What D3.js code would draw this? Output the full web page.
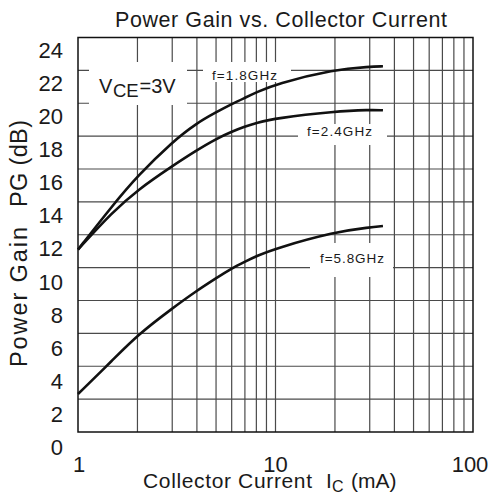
<!DOCTYPE html>
<html>
<head>
<meta charset="utf-8">
<script src="https://cdn.jsdelivr.net/npm/d3@7"></script>
<style>
  body { margin: 0; background: #fff; }
  svg { font-family: "Liberation Sans", Arial, sans-serif; }
  text { fill: #1a1a1a; }
</style>
</head>
<body>
<script>
// collector current (mA) and power gain (dB) per frequency
var current = [1, 1.5, 2, 3, 4, 5, 6, 7, 8, 10, 20, 30, 35];
var gain18 = [11.1, 13.8, 15.57, 17.65, 18.8, 19.45, 19.95, 20.33, 20.66, 21.17, 22.07, 22.22, 22.25];
var gain24 = [11.1, 13.4, 14.72, 16.18, 17.15, 17.83, 18.27, 18.58, 18.8, 19.09, 19.51, 19.6, 19.57];
var gain58 = [2.31, 4.38, 5.9, 7.52, 8.6, 9.35, 9.96, 10.36, 10.7, 11.17, 12.18, 12.45, 12.53];
var yTicks = [0, 2, 4, 6, 8, 10, 12, 14, 16, 18, 20, 22, 24];
var xTicks = [1, 10, 100];
var xGrid = [2, 3, 4, 5, 6, 7, 8, 9, 10, 20, 30, 40, 50, 60, 70, 80, 90];

var W = 490, H = 501;
var pLeft = 78, pRight = 473, pTop = 37.5, pBottom = 432;

var svg = d3.select("body").append("svg")
    .attr("width", W)
    .attr("height", H);

var x = d3.scaleLog().domain([1, 100]).range([pLeft, pRight]);
var y = d3.scaleLinear().domain([0, 24]).range([pBottom, pTop]);

// grid
var grid = svg.append("g").attr("stroke", "#4a4a4a").attr("stroke-width", 1.2);
grid.selectAll(".vx")
    .data(xGrid)
    .enter()
    .append("line")
    .attr("x1", d => x(d)).attr("x2", d => x(d))
    .attr("y1", pTop).attr("y2", pBottom);
grid.selectAll(".hy")
    .data(yTicks.slice(1, -1))
    .enter()
    .append("line")
    .attr("x1", pLeft).attr("x2", pRight)
    .attr("y1", d => y(d)).attr("y2", d => y(d));

// white boxes behind labels
var boxes = [[89, 62, 98, 43], [203, 62, 88, 20], [298, 124, 89, 21], [310, 243, 83, 34]];
svg.selectAll(".box")
    .data(boxes)
    .enter()
    .append("rect")
    .attr("x", d => d[0]).attr("y", d => d[1])
    .attr("width", d => d[2]).attr("height", d => d[3])
    .attr("fill", "#fff");

// frame
svg.append("rect")
    .attr("x", pLeft).attr("y", pTop)
    .attr("width", pRight - pLeft).attr("height", pBottom - pTop)
    .attr("fill", "none")
    .attr("stroke", "#111")
    .attr("stroke-width", 1.5);

// curves
var line = d3.line()
    .x((d, i) => x(current[i]))
    .y(d => y(d))
    .curve(d3.curveBasis);
[gain18, gain24, gain58].forEach(function (g) {
    svg.append("path")
        .datum(g)
        .attr("d", line)
        .attr("fill", "none")
        .attr("stroke", "#111")
        .attr("stroke-width", 2.6);
});

// labels
function label(tx, ty, size, len, str) {
    var t = svg.append("text")
        .attr("x", tx).attr("y", ty)
        .attr("font-size", size)
        .text(str);
    if (len) t.attr("textLength", len).attr("lengthAdjust", "spacing");
    return t;
}
label(212, 80, 13.5, 65, "f=1.8GHz");
label(307, 136, 13.5, 65, "f=2.4GHz");
label(320, 262.5, 13.5, 64, "f=5.8GHz");
label(99, 93, 20, 0, "V");
label(113, 97, 18.5, 0, "CE");
label(139.5, 93, 20, 0, "=3V");

// tick labels
svg.selectAll(".yt")
    .data(yTicks)
    .enter()
    .append("text")
    .attr("x", 63)
    .attr("y", d => y(d) + 20.5 + (24 - d) * 0.1)
    .attr("text-anchor", "end")
    .attr("font-size", 22)
    .text(d => d);
svg.selectAll(".xt")
    .data(xTicks)
    .enter()
    .append("text")
    .attr("x", (d, i) => x(d) + (i == 0 ? 1 : i == 2 ? -3 : 0))
    .attr("y", 471.5)
    .attr("text-anchor", "middle")
    .attr("font-size", 22)
    .text(d => d);

// title and axis titles
label(115, 27, 21.5, 332, "Power Gain vs. Collector Current");

label(143, 487.5, 21, 169, "Collector Current");
label(326, 487.5, 21, 0, "I");
label(332, 492, 16, 0, "C");
label(351, 487.5, 21, 0, "(mA)");

svg.append("text")
    .attr("transform", "translate(27,367) rotate(-90)")
    .attr("font-size", 23.5)
    .attr("textLength", 140)
    .attr("lengthAdjust", "spacing")
    .text("Power Gain");
svg.append("text")
    .attr("transform", "translate(27,207) rotate(-90)")
    .attr("font-size", 23.5)
    .attr("textLength", 87)
    .attr("lengthAdjust", "spacing")
    .text("PG (dB)");
</script>
</body>
</html>
